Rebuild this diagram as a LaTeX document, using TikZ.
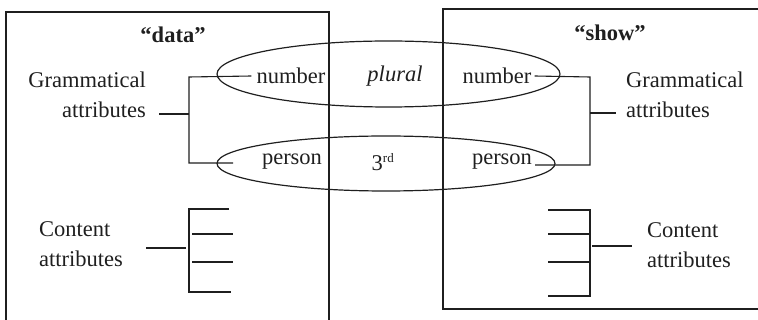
\documentclass[tikz,border=0pt]{standalone}
\usepackage{fontspec}
\setmainfont{Liberation Serif}
\usetikzlibrary{shapes.geometric}
\begin{document}
\begin{tikzpicture}[x=1pt,y=-1pt,
  ink/.style={draw=black!88},
  conn/.style={ink,line width=1.1pt},
  boxline/.style={ink,line width=1.8pt},
  ell/.style={ellipse,ink,line width=1.2pt,inner sep=0pt},
  lbl/.style={font=\fontsize{22.5}{30}\selectfont,inner sep=2pt,text=black!88},
  ttl/.style={font=\fontsize{22.5}{30}\selectfont\bfseries,inner sep=2pt,text=black!88}]
\useasboundingbox (0,0) rectangle (758,320);
% ellipses
\node[ell,minimum width=343pt,minimum height=66pt] (e1) at (388.5,74) {};
\node[ell,minimum width=338pt,minimum height=55pt] (e2) at (386,163.5) {};
% boxes
\draw[boxline] (6,320) -- (6,12) -- (329,12) -- (329,320);
\draw[boxline] (758,9) -- (443,9) -- (443,309) -- (758,309);
% titles
\node[ttl] (tdata) at (173,35) {“data”};
\node[ttl] (tshow) at (610,33) {“show”};
% ellipse texts
\node[lbl,inner xsep=5pt] (numL) at (291,76) {number};
\node[lbl] (plural) at (395,76) {\itshape plural};
\node[lbl,inner xsep=3pt] (numR) at (497,76) {number};
\node[lbl] (perL) at (292,162) {person};
\node[lbl] (third) at (383,162) {3\textsuperscript{\fontsize{13}{13}\selectfont rd}};
\node[lbl,inner xsep=3pt] (perR) at (502,162) {person};
% side labels
\node[lbl,align=right,anchor=east] (grL) at (148,95) {Grammatical\\attributes};
\node[lbl,align=left,anchor=west] (grR) at (624,95) {Grammatical\\attributes};
\node[lbl,align=left,anchor=west] (ctL) at (37,244) {Content\\attributes};
\node[lbl,align=left,anchor=west] (ctR) at (645,245) {Content\\attributes};
% left grammatical bracket
\coordinate (gl1) at (189,77);
\coordinate (gl2) at (189,163);
\coordinate (gl3) at (233,163);
\coordinate (gla) at (159,114);
\coordinate (glb) at (189,114);
\draw[conn] (numL.west) -- (gl1) -- (gl2) -- (gl3);
\draw[conn] (gla) -- (glb);
% right grammatical bracket
\coordinate (gr1) at (590,77);
\coordinate (gr2) at (590,165);
\coordinate (gra) at (590,113);
\coordinate (grb) at (616,113);
\draw[conn] (numR.east) -- (gr1) -- (gr2) -- (perR.east |- gr2);
\draw[conn] (gra) -- (grb);
% left content bracket
\coordinate (cl1) at (189,209);
\coordinate (cl2) at (189,292);
\coordinate (clt) at (229,209);
\coordinate (clb) at (231,292);
\coordinate (clm1a) at (192,234);
\coordinate (clm1b) at (233,234);
\coordinate (clm2a) at (192,262);
\coordinate (clm2b) at (233,262);
\coordinate (cla) at (146,248);
\coordinate (clc) at (186,248);
\draw[conn] (clt) -- (cl1) -- (cl2) -- (clb);
\draw[conn] (clm1a) -- (clm1b);
\draw[conn] (clm2a) -- (clm2b);
\draw[conn] (cla) -- (clc);
% right content bracket
\coordinate (cr1) at (590,210);
\coordinate (cr2) at (590,296);
\coordinate (crt) at (548,210);
\coordinate (crb) at (548,296);
\coordinate (crm1a) at (548,234);
\coordinate (crm1b) at (590,234);
\coordinate (crm2a) at (548,262);
\coordinate (crm2b) at (590,262);
\coordinate (cra) at (592,246);
\coordinate (crc) at (632,246);
\draw[conn] (crt) -- (cr1) -- (cr2) -- (crb);
\draw[conn] (crm1a) -- (crm1b);
\draw[conn] (crm2a) -- (crm2b);
\draw[conn] (cra) -- (crc);
\end{tikzpicture}
\end{document}
